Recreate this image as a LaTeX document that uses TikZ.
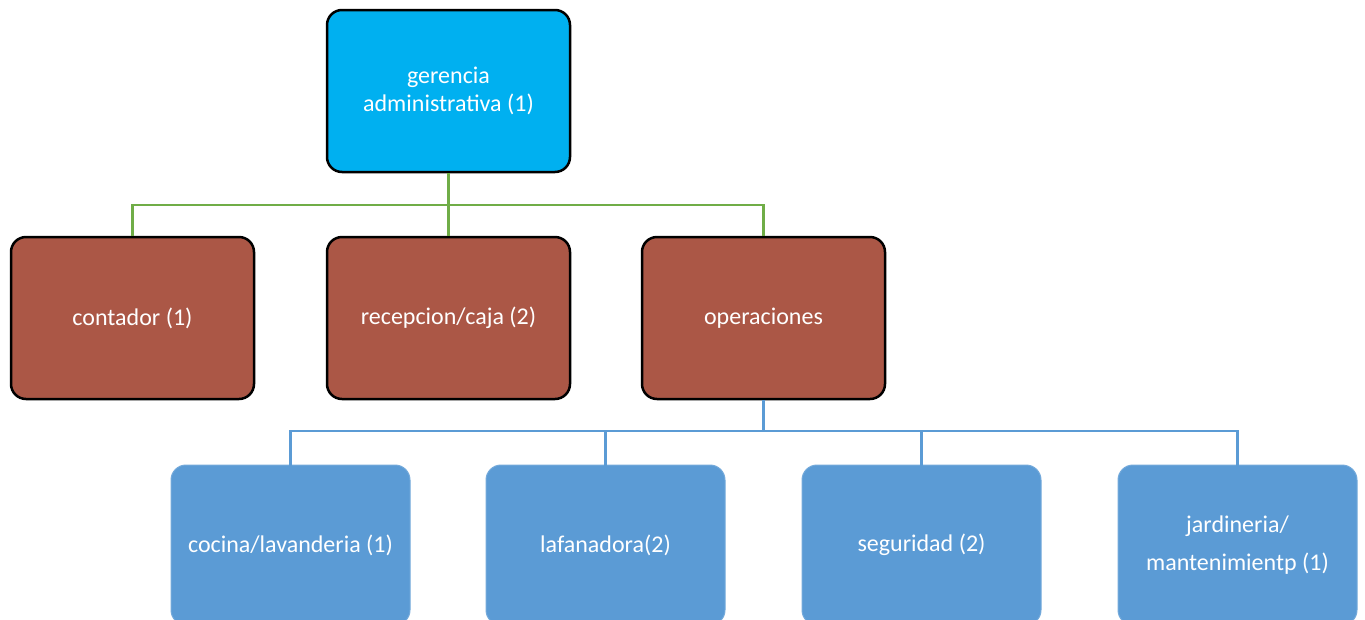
\documentclass[tikz,border=0pt]{standalone}
\usepackage{fontspec}
\setmainfont{Carlito}
\definecolor{topblue}{HTML}{00B0F0}
\definecolor{brownbox}{HTML}{AB5746}
\definecolor{bluebox}{HTML}{5B9BD5}
\definecolor{greenline}{HTML}{70AD47}
\begin{document}
\begin{tikzpicture}[x=1pt,y=1pt,
  box/.style={rectangle, rounded corners=15pt, minimum width=243pt, minimum height=162pt,
    text=white, font=\fontsize{24}{28}\selectfont, align=center, inner sep=2pt},
  topbox/.style={box, fill=topblue, draw=black, line width=2.5pt},
  midbox/.style={box, fill=brownbox, draw=black, line width=2.5pt},
  lowbox/.style={box, fill=bluebox, draw=bluebox!85!white, line width=1pt, minimum width=239pt, minimum height=160pt},
  gconn/.style={draw=greenline, line width=2.5pt},
  bconn/.style={draw=bluebox, line width=2.5pt}]
\useasboundingbox (0,-619) rectangle (1365,0);
\begin{scope}
\clip (0,-619) rectangle (1365,0);
\coordinate (gj) at (448.5,-205);
\coordinate (bj) at (763.5,-431);
\node[topbox] (g) at (448.5,-91) {gerencia\\administrativa (1)};
\node[midbox] (c) at (132.5,-318) {contador (1)};
\node[midbox] (r) at (448.5,-318) {recepcion/caja (2)};
\node[midbox] (o) at (763.5,-318) {operaciones};
\node[lowbox] (k) at (290.5,-545) {cocina/lavanderia (1)};
\node[lowbox] (l) at (605.5,-545) {lafanadora(2)};
\node[lowbox] (s) at (921.5,-545) {seguridad (2)};
\node[lowbox, font=\fontsize{24}{38}\selectfont] (j) at (1237.5,-545) {jardineria/\\mantenimientp (1)};
\draw[gconn] (g.south) -- (gj);
\draw[gconn] (c.north) |- (gj) -| (o.north);
\draw[gconn] (gj) -- (r.north);
\draw[bconn] (o.south) -- (bj);
\draw[bconn] ([yshift=-2pt]k.north) |- (bj) -| ([yshift=-2pt]j.north);
\draw[bconn] ([yshift=-2pt]l.north) -- (l.north |- bj);
\draw[bconn] ([yshift=-2pt]s.north) -- (s.north |- bj);
\end{scope}
\end{tikzpicture}
\end{document}
